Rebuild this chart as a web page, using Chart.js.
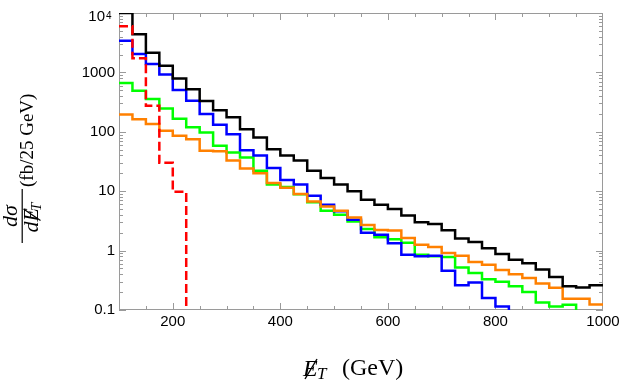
<!DOCTYPE html>
<html>
<head>
<meta charset="utf-8">
<script src="https://cdn.jsdelivr.net/npm/chart.js@4.4.1/dist/chart.umd.min.js"></script>
<style>
  body { margin: 0; background: #fff; }
  #wrap { width: 624px; height: 383px; }
</style>
</head>
<body>
<div id="wrap"><canvas id="etChart" width="624" height="383"></canvas></div>
<script>
// 25 GeV bins from 100 to 1000 GeV
const binEdges = [100, 125, 150, 175, 200, 225, 250, 275, 300, 325, 350, 375, 400, 425, 450, 475, 500, 525,
  550, 575, 600, 625, 650, 675, 700, 725, 750, 775, 800, 825, 850, 875, 900, 925, 950, 975, 1000];

// fb per bin (0.01 = falls off the bottom, null = no line)
const blackVals = [10000, 4400, 2150, 1290, 790, 520, 330, 230, 175, 110, 80, 51, 40, 33, 22, 16.7, 13, 10,
  7.2, 5.9, 5.0, 3.9, 3.0, 2.8, 2.2, 1.6, 1.4, 1.1, 0.88, 0.70, 0.61, 0.48, 0.36, 0.25, 0.24, 0.26];
const blueVals = [3400, 2050, 1390, 920, 505, 332, 200, 131, 91, 49, 40, 24.5, 15.4, 13, 8.4, 5.9, 4.6, 3.3,
  2.0, 1.85, 1.33, 0.85, 0.80, 0.82, 0.46, 0.26, 0.29, 0.16, 0.115, 0.01, null, null, null, null, null, null];
const greenVals = [660, 490, 355, 246, 166, 119, 97, 58, 45, 37, 22, 13, 11.8, 8.9, 6.5, 4.7, 4.0, 3.1,
  2.3, 1.67, 1.55, 1.35, 0.85, 0.80, 0.78, 0.52, 0.42, 0.33, 0.30, 0.25, 0.20, 0.134, 0.115, 0.123, 0.01, null];
const orangeVals = [195, 163, 135, 104, 86, 75, 48, 47, 33, 24, 20, 13.7, 11.4, 9.0, 6.7, 5.5, 4.7, 3.6,
  2.7, 2.23, 2.17, 1.63, 1.26, 1.15, 0.91, 0.82, 0.64, 0.58, 0.47, 0.40, 0.345, 0.28, 0.236, 0.154, 0.154, 0.124];
const redVals = [6000, 1730, 274, 30, 9.8, 0.01, null, null, null, null, null, null, null, null, null, null, null, null,
  null, null, null, null, null, null, null, null, null, null, null, null, null, null, null, null, null, null];

const xTickValues = [200, 400, 600, 800, 1000];
const yTickValues = [0.1, 1, 10, 100, 1000, 10000];
const yTickLabels = ["0.1", "1", "10", "100", "1000", ""]; // 10^4 is drawn by hand (superscript)

const frameColor = "#9a9a9a";
const sansFont = "'Liberation Sans', Arial, sans-serif";
const serifFont = "'Liberation Serif', 'Times New Roman', serif";

// histogram steps: each point starts a bin, last point closes the final bin
function histPoints(vals) {
  const pts = vals.map((v, i) => ({ x: binEdges[i], y: v }));
  pts.push({ x: binEdges[vals.length], y: vals[vals.length - 1] });
  return pts;
}

function histSet(vals, color, dash) {
  return {
    data: histPoints(vals),
    borderColor: color,
    borderWidth: 2.5,
    borderDash: dash || [],
    stepped: true,
    pointRadius: 0,
    fill: false,
    spanGaps: false,
  };
}

// frame, inward ticks, 10^4 label and the axis titles
const decorations = {
  id: "decorations",
  beforeDatasetsDraw(chart) {
    const { ctx, chartArea: a, scales } = chart;
    const x = scales.x, y = scales.y;
    ctx.save();
    ctx.strokeStyle = frameColor;
    ctx.lineWidth = 1;
    ctx.strokeRect(a.left + 0.5, a.top + 0.5, a.right - a.left - 1, a.bottom - a.top - 1);
    ctx.beginPath();
    for (let d = 0.1; d < 10000; d *= 10) {
      for (let k = 1; k <= 9; k++) {
        const len = k === 1 ? 7 : 4;
        const py = Math.round(y.getPixelForValue(k * d)) + 0.5;
        ctx.moveTo(a.left, py); ctx.lineTo(a.left + len, py);
        ctx.moveTo(a.right, py); ctx.lineTo(a.right - len, py);
      }
    }
    for (let v = 150; v < 1000; v += 50) {
      const len = v % 200 === 0 ? 7 : 4;
      const px = Math.round(x.getPixelForValue(v)) + 0.5;
      ctx.moveTo(px, a.bottom); ctx.lineTo(px, a.bottom - len);
      ctx.moveTo(px, a.top); ctx.lineTo(px, a.top + len);
    }
    ctx.stroke();
    ctx.restore();
  },
  afterDraw(chart) {
    const { ctx, scales } = chart;
    const y = scales.y;
    ctx.save();
    ctx.fillStyle = "#000";
    ctx.strokeStyle = "#000";

    // 10^4 tick label
    const top = y.getPixelForValue(10000);
    ctx.font = "15px " + sansFont;
    ctx.textAlign = "right";
    ctx.textBaseline = "middle";
    ctx.fillText("10", 105, top + 3.5);
    ctx.font = "10px " + sansFont;
    ctx.textAlign = "left";
    ctx.textBaseline = "alphabetic";
    ctx.fillText("4", 106, top + 6);

    // x title: E-slash_T (GeV)
    ctx.font = "italic 24px " + serifFont;
    ctx.fillText("E", 303, 376);
    ctx.lineWidth = 1.4;
    ctx.beginPath();
    ctx.moveTo(305, 379);
    ctx.lineTo(317, 359);
    ctx.stroke();
    ctx.font = "italic 17px " + serifFont;
    ctx.fillText("T", 317, 379);
    ctx.font = "24px " + serifFont;
    ctx.fillText("(GeV)", 342, 375);

    // y title, rotated: u = -pageY, v = pageX
    ctx.rotate(-Math.PI / 2);
    const fc = -216;
    ctx.font = "italic 22px " + serifFont;
    ctx.textAlign = "center";
    ctx.fillText("d\u03C3", fc, 17);
    ctx.fillRect(fc - 27, 21.6, 54, 1.2);
    const wd = ctx.measureText("d").width;
    const wE = ctx.measureText("E").width;
    ctx.font = "italic 15px " + serifFont;
    const wT = ctx.measureText("T").width;
    const start = fc - (wd + wE + wT) / 2;
    ctx.textAlign = "left";
    ctx.font = "italic 22px " + serifFont;
    ctx.fillText("dE", start, 38);
    ctx.lineWidth = 1.2;
    ctx.beginPath();
    ctx.moveTo(start + wd + 1, 40.5);
    ctx.lineTo(start + wd + wE - 1, 23.5);
    ctx.stroke();
    ctx.font = "italic 15px " + serifFont;
    ctx.fillText("T", start + wd + wE - 3, 41);
    ctx.font = "19px " + serifFont;
    ctx.fillText("(fb/25 GeV)", -187, 33);
    ctx.restore();
  },
};

const ctx = document.getElementById("etChart").getContext("2d");
const etChart = new Chart(ctx, {
  type: "line",
  data: {
    datasets: [
      histSet(redVals, "#ff0000", [9, 4]),
      histSet(blackVals, "#000000"),
      histSet(orangeVals, "#ff8000"),
      histSet(blueVals, "#0000ff"),
      histSet(greenVals, "#00ff00"),
    ],
  },
  options: {
    responsive: false,
    animation: false,
    layout: { padding: { left: 0, top: 12, right: 21, bottom: 0 } },
    plugins: { legend: { display: false }, tooltip: { enabled: false } },
    scales: {
      x: {
        type: "linear",
        min: 100,
        max: 1000,
        afterBuildTicks: (s) => { s.ticks = xTickValues.map((v) => ({ value: v })); },
        afterFit: (s) => { s.height = 73; },
        grid: { display: false, drawTicks: false },
        border: { display: false },
        ticks: {
          font: { family: sansFont, size: 15 },
          color: "#000",
          padding: 3,
          maxRotation: 0,
          autoSkip: false,
          callback: (v) => String(v),
        },
      },
      y: {
        type: "logarithmic",
        min: 0.1,
        max: 10000,
        afterBuildTicks: (s) => { s.ticks = yTickValues.map((v) => ({ value: v })); },
        afterFit: (s) => { s.width = 119; },
        grid: { display: false, drawTicks: false },
        border: { display: false },
        ticks: {
          font: { family: sansFont, size: 15 },
          color: "#000",
          padding: 4,
          autoSkip: false,
          callback: (v, i) => yTickLabels[i],
        },
      },
    },
  },
  plugins: [decorations],
});
</script>
</body>
</html>
